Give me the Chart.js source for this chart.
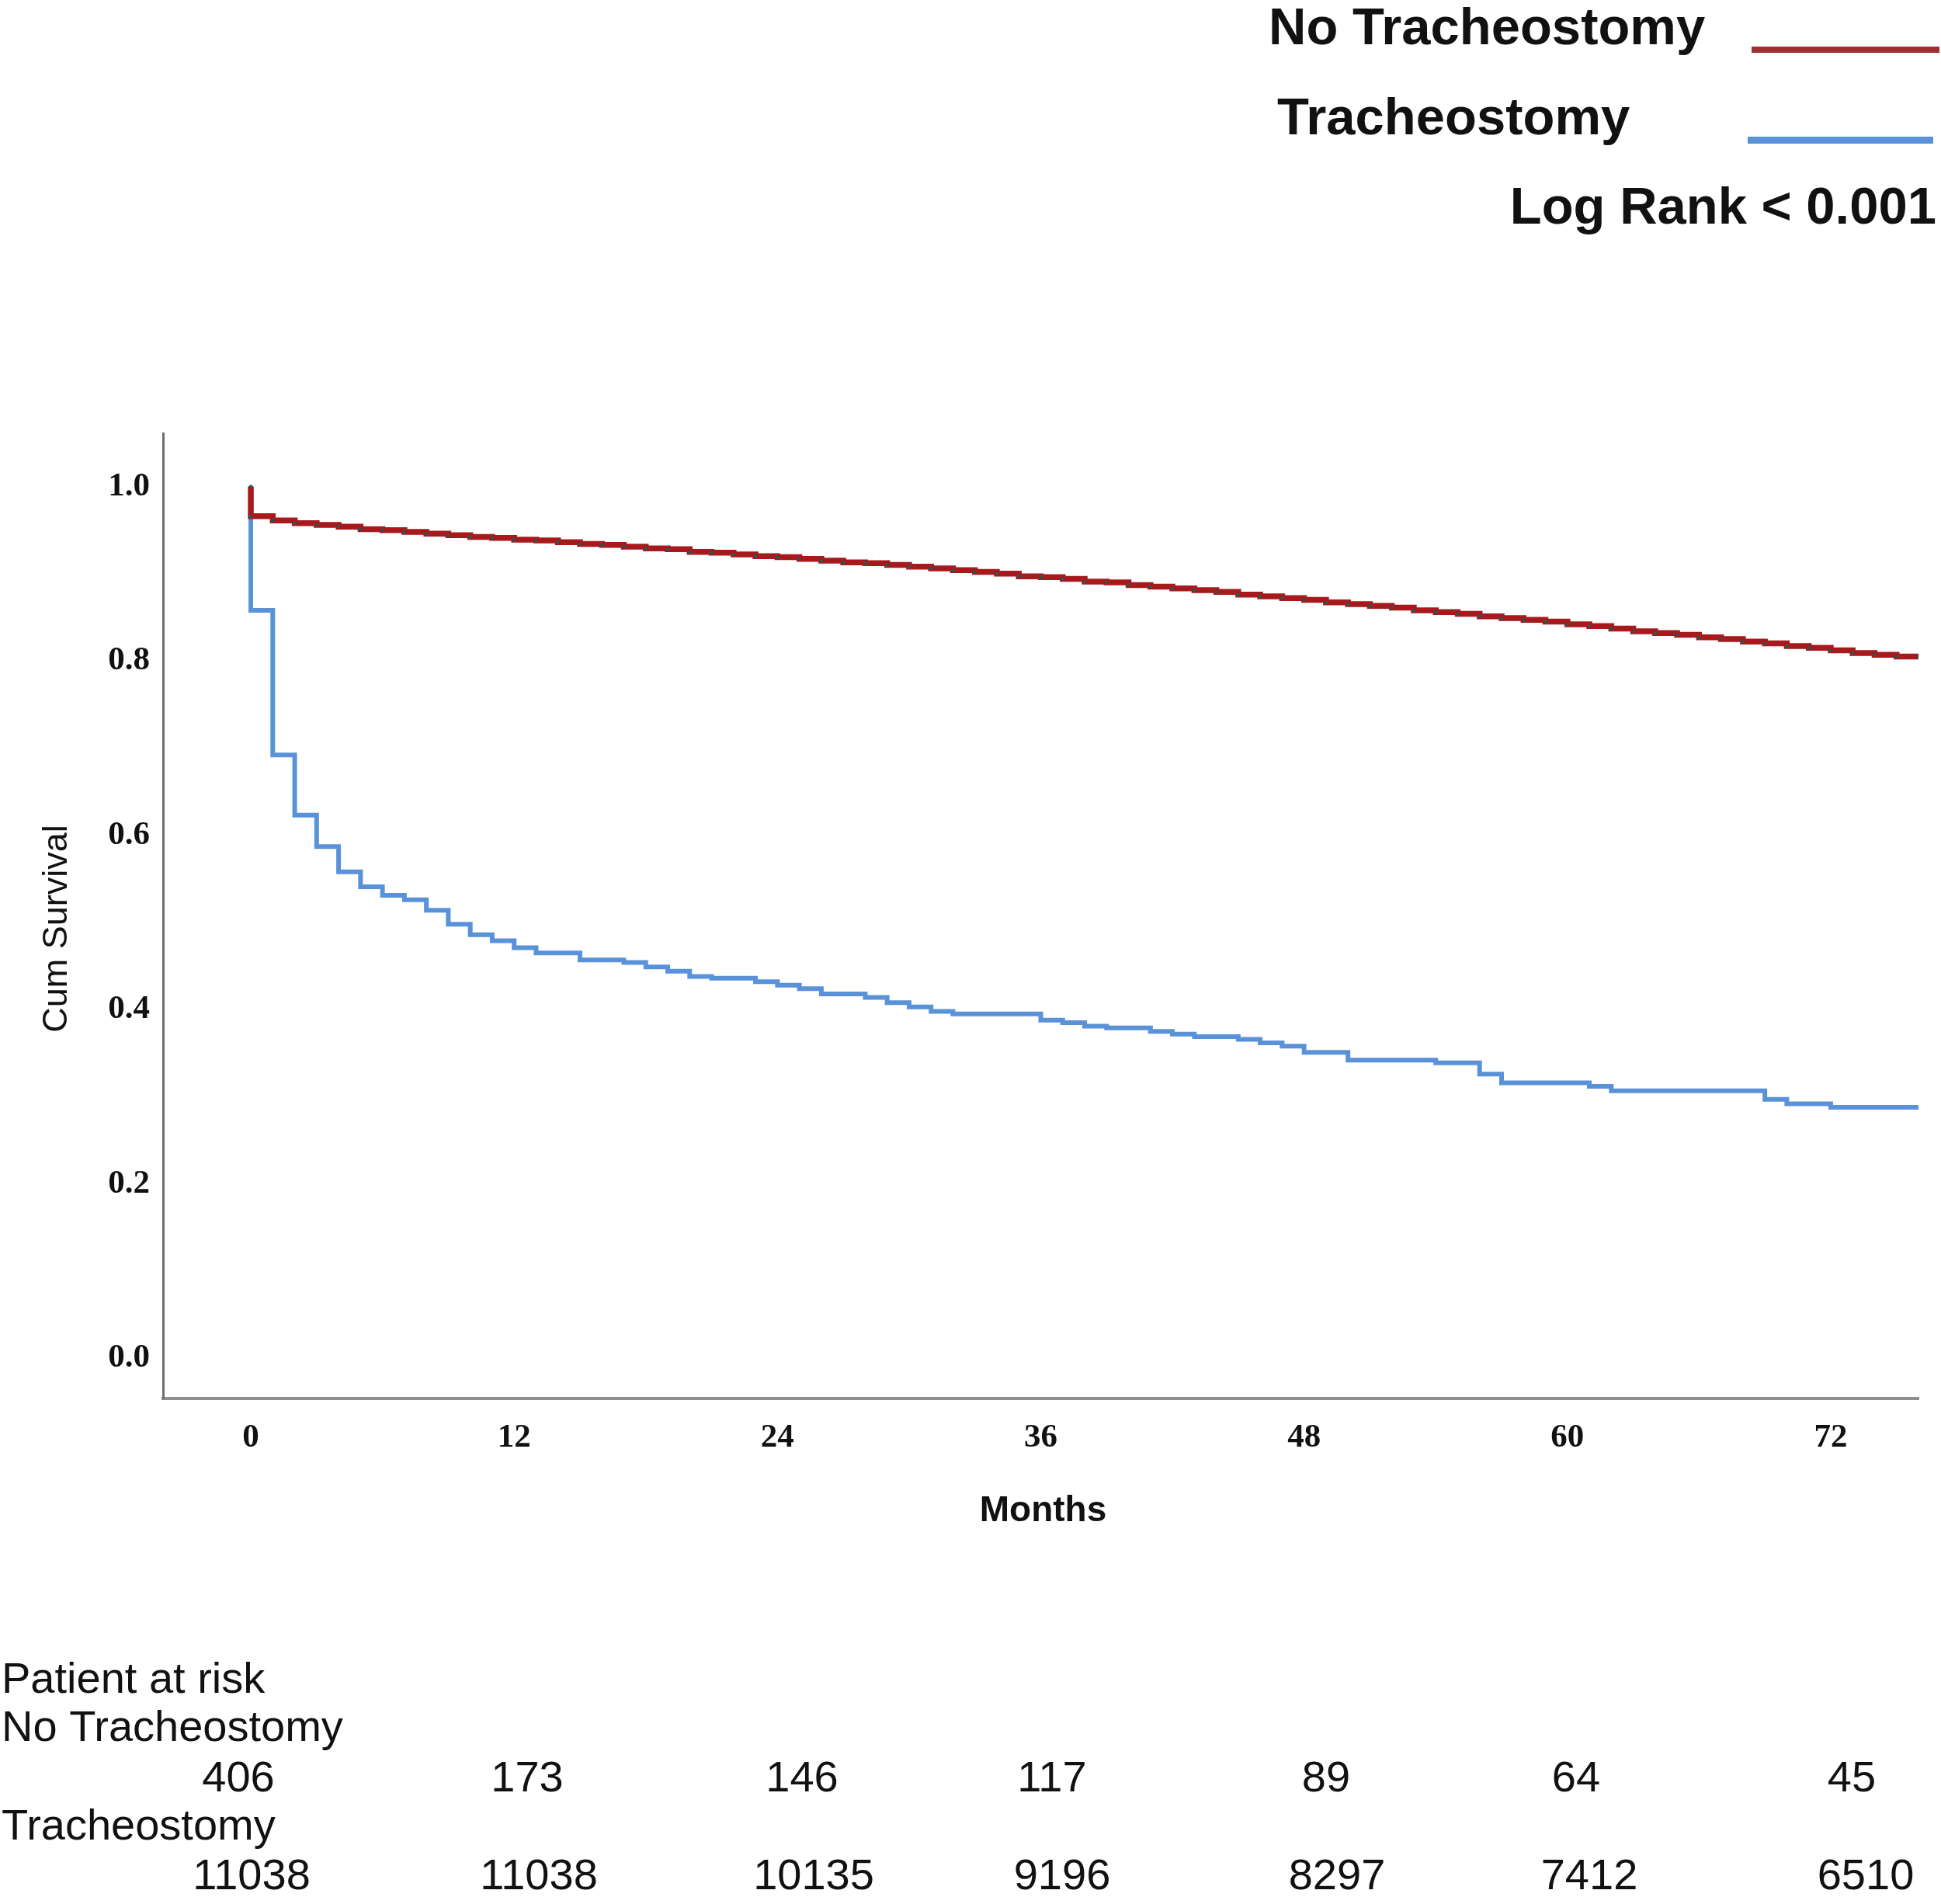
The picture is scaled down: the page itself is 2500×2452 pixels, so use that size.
<!DOCTYPE html>
<html>
<head>
<meta charset="utf-8">
<script src="https://cdn.jsdelivr.net/npm/chart.js@4.4.1/dist/chart.umd.min.js"></script>
<style>
  html, body { margin: 0; padding: 0; background: #ffffff; }
  #wrap { position: relative; width: 2500px; height: 2452px; }
  canvas { display: block; }
</style>
</head>
<body>
<div id="wrap"><canvas id="c" width="2500" height="2452" style="width:2500px;height:2452px"></canvas></div>
<script>
// ---------------- DATA ----------------
const seriesNames = ['No Tracheostomy', 'Tracheostomy'];

// No Tracheostomy (red) Kaplan-Meier steps: time in months, cumulative survival
const noTrachMonths = [0, 0, 1, 2, 3, 4, 5, 6, 7, 8, 9, 10, 11, 12, 13, 14, 15, 16, 17, 18, 19,
  20, 21, 22, 23, 24, 25, 26, 27, 28, 29, 30, 31, 32, 33, 34, 35, 36, 37, 38, 39,
  40, 41, 42, 43, 44, 45, 46, 47, 48, 49, 50, 51, 52, 53, 54, 55, 56, 57, 58, 59,
  60, 61, 62, 63, 64, 65, 66, 67, 68, 69, 70, 71, 72, 73, 74, 75, 76];
const noTrachSurv = [1.000, 0.966, 0.961, 0.958, 0.956, 0.954, 0.951, 0.950, 0.948, 0.946, 0.944,
  0.942, 0.941, 0.939, 0.938, 0.936, 0.934, 0.933, 0.931, 0.929, 0.928,
  0.925, 0.924, 0.922, 0.920, 0.919, 0.917, 0.915, 0.913, 0.912, 0.910,
  0.908, 0.906, 0.904, 0.902, 0.900, 0.897, 0.896, 0.894, 0.891, 0.890,
  0.887, 0.885, 0.883, 0.881, 0.879, 0.876, 0.874, 0.872, 0.870, 0.867,
  0.865, 0.863, 0.861, 0.858, 0.856, 0.854, 0.851, 0.849, 0.847, 0.845,
  0.842, 0.840, 0.837, 0.834, 0.832, 0.830, 0.827, 0.825, 0.822, 0.820,
  0.817, 0.815, 0.812, 0.809, 0.807, 0.805, 0.804];

// Tracheostomy (blue) Kaplan-Meier steps
const trachMonths = [0, 0, 1, 2, 3, 4, 5, 6, 7, 8, 9, 10, 11, 12, 13,
  15, 17, 18, 19, 20, 21, 23, 24, 25, 26, 28, 29, 30, 31, 32,
  36, 37, 38, 39, 41, 42, 43, 45, 46, 47, 48, 50,
  54, 56, 57, 61, 62, 69, 70, 72, 76];
const trachSurv = [1.000, 0.858, 0.692, 0.623, 0.587, 0.558, 0.541, 0.531, 0.526, 0.514, 0.498, 0.486, 0.479, 0.471, 0.465,
  0.457, 0.454, 0.449, 0.444, 0.438, 0.436, 0.432, 0.428, 0.424, 0.418, 0.414, 0.408, 0.403, 0.398, 0.395,
  0.388, 0.385, 0.381, 0.379, 0.375, 0.372, 0.369, 0.366, 0.362, 0.358, 0.351, 0.342,
  0.339, 0.326, 0.316, 0.312, 0.307, 0.297, 0.292, 0.288, 0.288];

// Axis ticks
const xTickValues = [0, 12, 24, 36, 48, 60, 72];
const yTickValues = [0.0, 0.2, 0.4, 0.6, 0.8, 1.0];

// Patients at risk table
const riskTitle = 'Patient at risk';
const riskRowLabels = ['No Tracheostomy', 'Tracheostomy'];
const riskNoTrach = [406, 173, 146, 117, 89, 64, 45];
const riskTrach = [11038, 11038, 10135, 9196, 8297, 7412, 6510];

const logRankText = 'Log Rank < 0.001';
const xTitle = 'Months';
const yTitle = 'Cum Survival';

// ---------------- STYLE / LAYOUT ----------------
const RED = '#A8191C';
const BLUE = '#5A92DA';
const SANS = "'Liberation Sans', Arial, Helvetica, sans-serif";
const SERIF = "'Liberation Serif', 'Times New Roman', serif";
const riskColX = [
  [307, 679, 1033, 1355, 1708, 2030, 2385],
  [324, 694, 1048, 1368, 1722, 2047, 2403]
];

function toPoints(xs, ys) { return xs.map((x, i) => ({ x: x, y: ys[i] })); }

const textPlugin = {
  id: 'kmText',
  beforeDraw(chart) {
    const ctx = chart.ctx;
    ctx.save();
    ctx.fillStyle = '#ffffff';
    ctx.fillRect(0, 0, chart.width, chart.height);
    ctx.restore();
  },
  afterDraw(chart) {
    const ctx = chart.ctx;
    ctx.save();
    ctx.fillStyle = '#111111';

    // y-axis title (rotated)
    ctx.save();
    ctx.translate(74, 1196);
    ctx.rotate(-Math.PI / 2);
    ctx.font = '45px ' + SANS;
    ctx.textAlign = 'center';
    ctx.textBaseline = 'middle';
    ctx.fillText(yTitle, 0, 0);
    ctx.restore();

    // x-axis title
    ctx.font = 'bold 46px ' + SANS;
    ctx.textAlign = 'center';
    ctx.textBaseline = 'alphabetic';
    ctx.fillText(xTitle, chart.chartArea.left + (chart.chartArea.right - chart.chartArea.left) / 2 + 3, 1959);

    // legend
    ctx.font = 'bold 67px ' + SANS;
    ctx.textAlign = 'left';
    ctx.fillText(seriesNames[0], 1634, 57);
    ctx.fillText(seriesNames[1], 1645, 173);
    ctx.textAlign = 'right';
    ctx.fillText(logRankText, 2494, 288);
    ctx.fillStyle = '#9E3030';
    ctx.fillRect(2256, 60, 242, 8);
    ctx.fillStyle = BLUE;
    ctx.fillRect(2251, 176, 239, 9);

    // risk table
    ctx.fillStyle = '#111111';
    ctx.font = '56px ' + SANS;
    ctx.textAlign = 'left';
    ctx.fillText(riskTitle, 2, 2180);
    ctx.fillText(riskRowLabels[0], 2, 2242);
    ctx.fillText(riskRowLabels[1], 2, 2369);
    ctx.textAlign = 'center';
    riskNoTrach.forEach((v, i) => ctx.fillText(String(v), riskColX[0][i], 2307));
    riskTrach.forEach((v, i) => ctx.fillText(String(v), riskColX[1][i], 2433));
    ctx.restore();
  }
};

new Chart(document.getElementById('c'), {
  type: 'line',
  data: {
    datasets: [
      {
        label: seriesNames[0],
        data: toPoints(noTrachMonths, noTrachSurv),
        borderColor: RED,
        borderWidth: 7.5,
        stepped: 'before',
        fill: false,
        pointRadius: 2.2,
        pointBackgroundColor: '#1F5A5C',
        pointBorderWidth: 0,
        pointHoverRadius: 0,
        order: 0
      },
      {
        label: seriesNames[1],
        data: toPoints(trachMonths, trachSurv),
        borderColor: BLUE,
        borderWidth: 6,
        stepped: 'before',
        fill: false,
        pointRadius: 0,
        pointHoverRadius: 0,
        order: 1
      }
    ]
  },
  options: {
    responsive: false,
    maintainAspectRatio: false,
    animation: false,
    devicePixelRatio: 1,
    layout: { padding: { top: 558, right: 29, left: 0, bottom: 0 } },
    plugins: { legend: { display: false }, tooltip: { enabled: false }, title: { display: false } },
    scales: {
      x: {
        type: 'linear',
        min: -4,
        max: 76,
        grid: { display: false, drawTicks: false },
        border: { display: true, color: '#8f8f8f', width: 4 },
        afterBuildTicks: (s) => { s.ticks = xTickValues.map(v => ({ value: v })); },
        afterFit: (s) => { s.height = 651; },
        ticks: {
          autoSkip: false,
          maxRotation: 0,
          padding: 25,
          color: '#111111',
          font: { family: SERIF, weight: 'bold', size: 43 },
          callback: (v) => String(v)
        }
      },
      y: {
        type: 'linear',
        min: -0.046,
        max: 1.061,
        grid: { display: false, drawTicks: false },
        border: { display: true, color: '#6f6f6f', width: 3 },
        afterBuildTicks: (s) => { s.ticks = yTickValues.map(v => ({ value: v })); },
        afterFit: (s) => { s.width = 210; },
        ticks: {
          autoSkip: false,
          padding: 17,
          color: '#111111',
          font: { family: SERIF, weight: 'bold', size: 43 },
          callback: (v) => Number(v).toFixed(1)
        }
      }
    }
  },
  plugins: [textPlugin]
});
</script>
</body>
</html>
